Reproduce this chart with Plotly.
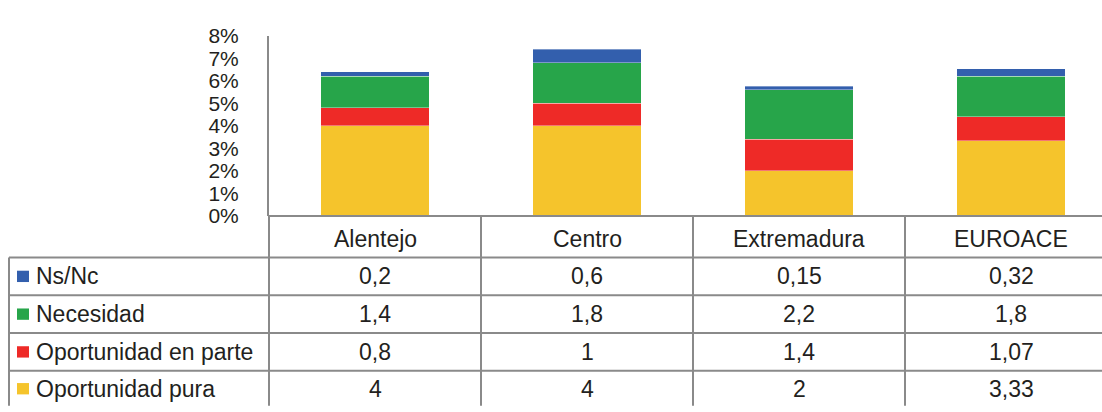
import plotly.graph_objects as go

W, H = 1102, 412

categories = ["Alentejo", "Centro", "Extremadura", "EUROACE"]
series_names = ["Oportunidad pura", "Oportunidad en parte", "Necesidad", "Ns/Nc"]
oport_pura = [4, 4, 2, 3.33]
oport_parte = [0.8, 1, 1.4, 1.07]
necesidad = [1.4, 1.8, 2.2, 1.8]
nsnc = [0.2, 0.6, 0.15, 0.32]
colors = ["#f5c42c", "#ee2a27", "#27a54a", "#335fad"]
tick_vals = [0, 1, 2, 3, 4, 5, 6, 7, 8]

series_values = [oport_pura, oport_parte, necesidad, nsnc]

FONT = "Liberation Sans, Arial, sans-serif"
TXT = "#231f20"
GRID = "#8a8a8a"
FS = 23
FS_TICK = 21


def px(x):
    return x / W


def py(y):
    return 1 - y / H


fig = go.Figure()
xs = list(range(len(categories)))
for name, vals, col in zip(series_names, series_values, colors):
    fig.add_trace(go.Bar(x=xs, y=vals, name=name,
                         marker=dict(color=col, line=dict(width=0.6, color="rgba(255,255,255,0.6)")),
                         width=0.51, showlegend=False))

# plot geometry (pixels)
x_left = 269
col_w = 212
y_bottom = 216
y_top = 25

x_max = (W - x_left) / col_w - 0.5

fig.update_layout(
    width=W, height=H,
    margin=dict(l=0, r=0, t=0, b=0),
    paper_bgcolor="white", plot_bgcolor="white",
    barmode="stack",
    font=dict(family=FONT, color=TXT, size=FS),
    xaxis=dict(domain=[px(x_left), 1], range=[-0.5, x_max], showticklabels=False,
               showgrid=False, zeroline=False, showline=False),
    yaxis=dict(domain=[py(y_bottom), py(y_top)], range=[0, 8], tickvals=tick_vals,
               ticktext=[f"{v}%" for v in tick_vals], showgrid=False, zeroline=False,
               showline=True, linecolor=GRID, linewidth=2, ticks="",
               ticklabelstandoff=24, tickfont=dict(size=FS_TICK, color=TXT)),
)

shapes = []


def hline(x0, x1, y):
    shapes.append(dict(type="line", xref="paper", yref="paper", x0=px(x0), x1=px(x1),
                       y0=py(y), y1=py(y), line=dict(color=GRID, width=2)))


def vline(x, y0, y1):
    shapes.append(dict(type="line", xref="paper", yref="paper", x0=px(x), x1=px(x),
                       y0=py(y0), y1=py(y1), line=dict(color=GRID, width=2)))


row_lines = [260, 300, 340, 380]
hline(x_left, W, y_bottom)
for y in row_lines:
    hline(9, W, y)
vline(9, 260, H + 5)
for i in range(len(categories)):
    vline(x_left + i * col_w, y_bottom, H + 5)

annotations = []
for i, c in enumerate(categories):
    annotations.append(dict(xref="paper", yref="paper", x=px(x_left + (i + 0.5) * col_w), y=py(240),
                            text=c, showarrow=False, xanchor="center", yanchor="middle",
                            font=dict(size=FS, color=TXT, family=FONT)))

row_order = list(range(len(series_names)))[::-1]
row_centers = [280, 320, 360, 399]


def fmt(v):
    return f"{v:g}".replace(".", ",")


for r, si in enumerate(row_order):
    yc = row_centers[r]
    shapes.append(dict(type="rect", xref="paper", yref="paper", x0=px(17), x1=px(29),
                       y0=py(yc + 6), y1=py(yc - 6), fillcolor=colors[si], line=dict(width=0)))
    annotations.append(dict(xref="paper", yref="paper", x=px(34), y=py(yc), text=series_names[si],
                            showarrow=False, xanchor="left", yanchor="middle",
                            font=dict(size=FS, color=TXT, family=FONT)))
    for i, v in enumerate(series_values[si]):
        annotations.append(dict(xref="paper", yref="paper", x=px(x_left + (i + 0.5) * col_w), y=py(yc),
                                text=fmt(v), showarrow=False, xanchor="center", yanchor="middle",
                                font=dict(size=FS, color=TXT, family=FONT)))

fig.update_layout(shapes=shapes, annotations=annotations)
fig.write_html("out.html", config={"displayModeBar": False},
               post_script="document.body.style.margin='0px';document.body.style.overflow='hidden';")
